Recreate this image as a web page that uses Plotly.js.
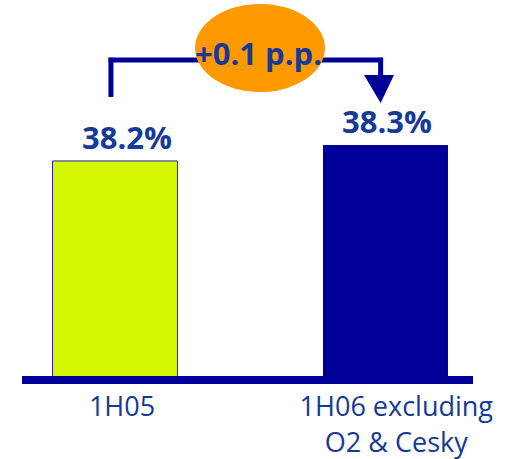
<!DOCTYPE html>
<html><head><meta charset="utf-8">
<script src="https://cdn.plot.ly/plotly-3.0.1.min.js"></script>
<style>html,body{margin:0;padding:0;background:#fff}</style>
</head><body><div id="chart" style="width:512px;height:459px"></div>
<script>
const categories = ["1H05", "1H06 excluding<br>O2 & Cesky"];
const values = [38.2, 38.3];
const valueLabels = ["38.2%", "38.3%"];
const changeLabel = "+0.1 p.p.";
const barColors = ["#d4f700", "#000099"];

const navy = "#000099";
const textNavy = "#16399a";
const xs = [0, 1];
const labelOffsets = [0.044, 0.006];

const trace = {
  type: "bar", x: xs, y: values, width: 0.462,
  marker: {color: barColors, line: {color: ["#2222aa", navy], width: [1, 0]}},
  hoverinfo: "skip"
};

const yLo = 36.856, yHi = 39.206;
const shapes = [
  {type: "line", xref: "x", yref: "y", x0: -0.015, x1: -0.015, y0: 38.60, y1: 38.845, line: {color: navy, width: 5}},
  {type: "line", xref: "x", yref: "y", x0: -0.024, x1: 0.991, y0: 38.831, y1: 38.831, line: {color: navy, width: 5}},
  {type: "line", xref: "x", yref: "y", x0: 0.982, x1: 0.982, y0: 38.845, y1: 38.73, line: {color: navy, width: 5}},
  {type: "path", xref: "x", yref: "y", path: "M 0.9205 38.737 L 1.0314 38.737 L 0.982 38.562 Z", fillcolor: navy, line: {width: 0}},
  {type: "circle", xref: "x", yref: "y", x0: 0.2957, x1: 0.7763, y0: 38.631, y1: 39.181, fillcolor: "#ff9900", line: {width: 0}}
];

const annotations = values.map((v, i) => ({
  x: xs[i] + labelOffsets[i], y: v, xref: "x", yref: "y", text: "<b>" + valueLabels[i] + "</b>",
  showarrow: false, yanchor: "bottom", yshift: 1,
  font: {family: "Open Sans", size: 31, color: textNavy}
}));
annotations.push({
  x: 0.532, y: 38.875, xref: "x", yref: "y", text: "<b>" + changeLabel + "</b>",
  showarrow: false, font: {family: "Open Sans", size: 31, color: textNavy}
});

const layout = {
  width: 512, height: 459,
  margin: {l: 22, r: 39, t: 0, b: 83},
  paper_bgcolor: "#fff", plot_bgcolor: "#fff",
  showlegend: false,
  xaxis: {
    type: "linear", range: [-0.3438, 1.3235],
    tickvals: [0.026, 1.04], ticktext: categories, tickangle: 0,
    showgrid: false, zeroline: false, ticks: "",
    showline: true, linecolor: navy, linewidth: 8,
    tickfont: {family: "Open Sans", size: 27, color: textNavy},
    fixedrange: true
  },
  yaxis: {range: [yLo, yHi], visible: false, showgrid: false, zeroline: false, fixedrange: true},
  shapes: shapes,
  annotations: annotations
};

Plotly.newPlot("chart", [trace], layout, {displayModeBar: false, staticPlot: true});
</script></body></html>
